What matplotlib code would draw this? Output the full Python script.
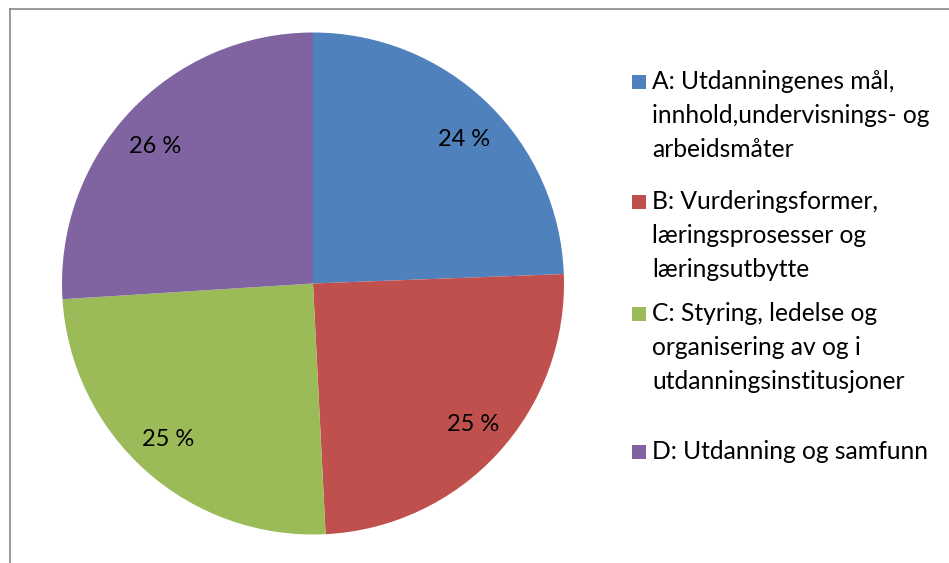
import matplotlib.pyplot as plt
from matplotlib.patches import Rectangle
from matplotlib.lines import Line2D

# shares (labels are rounded)
categories = ['A', 'B', 'C', 'D']
shares = [24.4, 24.8, 24.8, 26.0]
legend_labels = [
    ['A: Utdanningenes mål,', 'innhold,undervisnings- og', 'arbeidsmåter'],
    ['B: Vurderingsformer,', 'læringsprosesser og', 'læringsutbytte'],
    ['C: Styring, ledelse og', 'organisering av og i', 'utdanningsinstitusjoner'],
    ['D: Utdanning og samfunn'],
]
colors = ['#4F81BD', '#C0504D', '#9BBB59', '#8064A2']

plt.rcParams['font.family'] = ['Lato', 'DejaVu Sans']

W, H = 949, 563
fig = plt.figure(figsize=(W / 100, H / 100), dpi=100)

# pie axes: center (313, 283), radius 251 px
cx, cy, r = 313, 283.5, 251
ax = fig.add_axes([(cx - r) / W, 1 - (cy + r) / H, 2 * r / W, 2 * r / H])
wedges, texts, autotexts = ax.pie(
    shares, colors=colors, startangle=90, counterclock=False,
    autopct=lambda p: f'{p:.0f} %', pctdistance=0.84,
    textprops={'fontsize': 17, 'color': 'black'},
    wedgeprops={'linewidth': 0})
# nudge labels a bit toward the horizontal, like the original layout
for t in autotexts:
    x, y = t.get_position()
    t.set_position((x * 1.03, y * 0.97 - 0.012))
ax.set_xlim(-1, 1)
ax.set_ylim(-1, 1)
ax.set_aspect('auto')
ax.axis('off')

# frame (only top and left edges visible)
fig.add_artist(Line2D([10 / W, 10 / W], [0, 1 - 9 / H], color='#888888', lw=1.2))
fig.add_artist(Line2D([10 / W, 1], [1 - 9 / H, 1 - 9 / H], color='#888888', lw=1.2))

# legend drawn by hand so the marker sits on the first line
first_baselines = [89, 209, 321, 459]
line_step = 34
for lines, col, y0 in zip(legend_labels, colors, first_baselines):
    fig.add_artist(Rectangle((632 / W, 1 - y0 / H), 14 / W, 14 / H,
                             transform=fig.transFigure, color=col, lw=0))
    for i, line in enumerate(lines):
        fig.text(652 / W, 1 - (y0 + i * line_step) / H, line, fontsize=17.7,
                 va='baseline', ha='left')

fig.savefig('out.png', dpi=100)
